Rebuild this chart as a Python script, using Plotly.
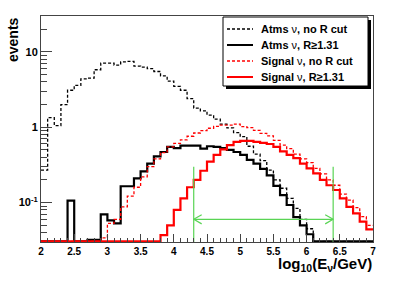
import numpy as np
import plotly.graph_objects as go

# ---------------- data (bins of 0.1 in log10(E/GeV), from 2.0 to 7.0) ----------------
bin_start = 2.0
bin_width = 0.1

atms_no_cut = [0.27, 1.34, 1.05, 2.0, 3.1, 3.6, 4.4, 4.5, 5.8, 7.1,
               7.1, 6.7, 7.4, 7.5, 6.5, 6.3, 6.0, 5.5, 4.8, 4.1,
               3.5, 3.1, 2.4, 1.8, 1.65, 1.45, 1.28, 1.1, 0.98, 0.85,
               0.75, 0.56, 0.44, 0.36, 0.27, 0.2, 0.155, 0.114, 0.084, 0.06,
               0.045, 0, 0, 0, 0, 0, 0, 0, 0, 0]

atms_r_cut = [0, 0, 0, 0, 0.106, 0, 0, 0.032, 0.032, 0.07,
              0.058, 0.053, 0.165, 0.165, 0.21, 0.26, 0.33, 0.41, 0.47, 0.55,
              0.53, 0.57, 0.57, 0.57, 0.52, 0.56, 0.55, 0.53, 0.50, 0.47,
              0.43, 0.37, 0.33, 0.28, 0.23, 0.167, 0.126, 0.093, 0.064, 0.05,
              0.038, 0, 0, 0, 0, 0, 0, 0, 0, 0]

signal_no_cut = [0, 0, 0, 0, 0, 0, 0, 0, 0, 0.034,
                 0.053, 0.06, 0.088, 0.122, 0.16, 0.22, 0.30, 0.38, 0.46, 0.55,
                 0.61, 0.68, 0.76, 0.84, 0.90, 0.97, 1.03, 1.07, 1.07, 1.10,
                 1.02, 0.99, 0.91, 0.83, 0.77, 0.67, 0.58, 0.52, 0.44, 0.38,
                 0.34, 0.285, 0.24, 0.20, 0.17, 0.13, 0.108, 0.086, 0.065, 0.05]

signal_r_cut = [0, 0, 0, 0, 0, 0, 0, 0, 0, 0,
                0, 0, 0, 0, 0, 0, 0, 0, 0.037, 0.05,
                0.08, 0.114, 0.16, 0.20, 0.265, 0.35, 0.43, 0.51, 0.58, 0.64,
                0.66, 0.66, 0.64, 0.62, 0.60, 0.55, 0.48, 0.43, 0.39, 0.33,
                0.285, 0.245, 0.20, 0.17, 0.147, 0.114, 0.088, 0.072, 0.056, 0.044]

series_names = ["Atms ν, no R cut", "Atms ν, R≥1.31",
                "Signal ν, no R cut", "Signal ν, R≥1.31"]

cut_low, cut_high = 4.3, 6.4
cut_line_top = 0.3
arrow_level = 0.06

x_tick_values = [2, 2.5, 3, 3.5, 4, 4.5, 5, 5.5, 6, 6.5, 7]
x_tick_labels = ["2", "2.5", "3", "3.5", "4", "4.5", "5", "5.5", "6", "6.5", "7"]
y_tick_values = [0.1, 1, 10]
y_tick_labels = ["10<sup>-1</sup>", "1", "10"]

# ---------------- layout geometry ----------------
W, H = 415, 282
L, R, T, B = 41, 373, 16, 242
YMIN, YMAX = 0.03, 30.0
XMIN, XMAX = 2.0, 7.0
FONT = "Liberation Sans"
GREEN = "#59d454"

n_bins = len(atms_no_cut)
edges = np.round(bin_start + bin_width * np.arange(n_bins + 1), 3)


def step(vals):
    v = np.maximum(np.asarray(vals, float), YMIN * 1.02)  # ROOT draws empty bins at the floor
    return edges, np.append(v, v[-1])


def px_x(p):
    return (p - L) / (R - L)


def px_y(p):
    return (B - p) / (B - T)


fig = go.Figure()
styles = [
    dict(color="black", width=1.3, dash="3px,2px"),
    dict(color="black", width=2.2),
    dict(color="#ff0000", width=1.3, dash="3px,2px"),
    dict(color="#ff0000", width=2.2),
]
for vals, name, st in zip([atms_no_cut, atms_r_cut, signal_no_cut, signal_r_cut],
                          series_names, styles):
    xs, ys = step(vals)
    fig.add_trace(go.Scatter(x=xs, y=ys, mode="lines", line=dict(shape="hv", **st),
                             name=name, showlegend=False, hoverinfo="skip"))

# cut lines and double arrow
for xc in (cut_low, cut_high):
    fig.add_trace(go.Scatter(x=[xc, xc], y=[YMIN, cut_line_top], mode="lines",
                             line=dict(color=GREEN, width=1.2), showlegend=False, hoverinfo="skip"))
head_dx = 0.12
head_f = 1.15
fig.add_trace(go.Scatter(
    x=[cut_low, cut_high, None,
       cut_low + head_dx, cut_low, cut_low + head_dx, None,
       cut_high - head_dx, cut_high, cut_high - head_dx],
    y=[arrow_level, arrow_level, None,
       arrow_level * head_f, arrow_level, arrow_level / head_f, None,
       arrow_level * head_f, arrow_level, arrow_level / head_f],
    mode="lines", line=dict(color=GREEN, width=1.2), showlegend=False, hoverinfo="skip"))

# ---------------- manual ROOT-style legend ----------------
lx0, ly0, lx1, ly1 = 223, 17, 368, 86
shapes = [
    dict(type="rect", xref="paper", yref="paper", x0=px_x(lx0 + 3), x1=px_x(lx1 + 3),
         y0=px_y(ly1 + 3), y1=px_y(ly0 + 3), fillcolor="black", line=dict(width=0), layer="above"),
    dict(type="rect", xref="paper", yref="paper", x0=px_x(lx0), x1=px_x(lx1),
         y0=px_y(ly1), y1=px_y(ly0), fillcolor="white", line=dict(color="black", width=1), layer="above"),
]
annotations = []
row_y = [29, 45, 61, 77]
for i, (name, st) in enumerate(zip(series_names, styles)):
    ls = dict(color=st["color"], width=1.3 if "dash" in st else 2.0)
    if "dash" in st:
        ls["dash"] = "3px,2px"
    shapes.append(dict(type="line", xref="paper", yref="paper", x0=px_x(227), x1=px_x(253),
                       y0=px_y(row_y[i]), y1=px_y(row_y[i]), line=ls, layer="above"))
    txt = name.replace("ν", '<span style="font-weight:normal">ν</span>')
    annotations.append(dict(xref="paper", yref="paper", x=px_x(259), y=px_y(row_y[i]),
                            xanchor="left", yanchor="middle", text=txt, showarrow=False,
                            font=dict(family=FONT, size=11, color="black", weight="bold")))

# axis titles (ROOT puts them at the end of the axis)
annotations.append(dict(xref="paper", yref="paper", x=px_x(R + 1), y=px_y(264),
                        xanchor="right", yanchor="middle",
                        text="log<sub>10</sub>(E<sub>ν</sub>/GeV)", showarrow=False,
                        font=dict(family=FONT, size=15, color="black", weight="bold")))
annotations.append(dict(xref="paper", yref="paper", x=px_x(13), y=px_y(40),
                        xanchor="center", yanchor="middle", textangle=-90,
                        text="events", showarrow=False,
                        font=dict(family=FONT, size=14, color="black", weight="bold")))

axis_color = "#444444"
fig.update_layout(
    width=W, height=H,
    margin=dict(l=L, r=W - R, t=T, b=H - B, pad=0),
    paper_bgcolor="white", plot_bgcolor="white",
    showlegend=False,
    shapes=shapes, annotations=annotations,
    xaxis=dict(range=[XMIN, XMAX], tickvals=x_tick_values, ticktext=x_tick_labels,
               ticks="inside", ticklen=8, tickcolor=axis_color, tickwidth=1,
               minor=dict(ticks="inside", ticklen=4, dtick=0.1, tick0=2, tickcolor=axis_color,
                          showgrid=False),
               showline=True, linecolor=axis_color, linewidth=1, mirror=True,
               showgrid=False, zeroline=False,
               tickfont=dict(family=FONT, size=10, color="black", weight="bold")),
    yaxis=dict(type="log", range=[np.log10(YMIN), np.log10(YMAX)],
               tickvals=y_tick_values, ticktext=y_tick_labels,
               ticks="inside", ticklen=11, tickcolor=axis_color, tickwidth=1,
               minor=dict(ticks="inside", ticklen=6, dtick="D1", tickcolor=axis_color,
                          showgrid=False),
               showline=True, linecolor=axis_color, linewidth=1, mirror=True,
               showgrid=False, zeroline=False,
               tickfont=dict(family=FONT, size=11, color="black", weight="bold")),
)

fig.write_html("out.html", config={"displayModeBar": False},
               post_script="document.body.style.margin='0';")
